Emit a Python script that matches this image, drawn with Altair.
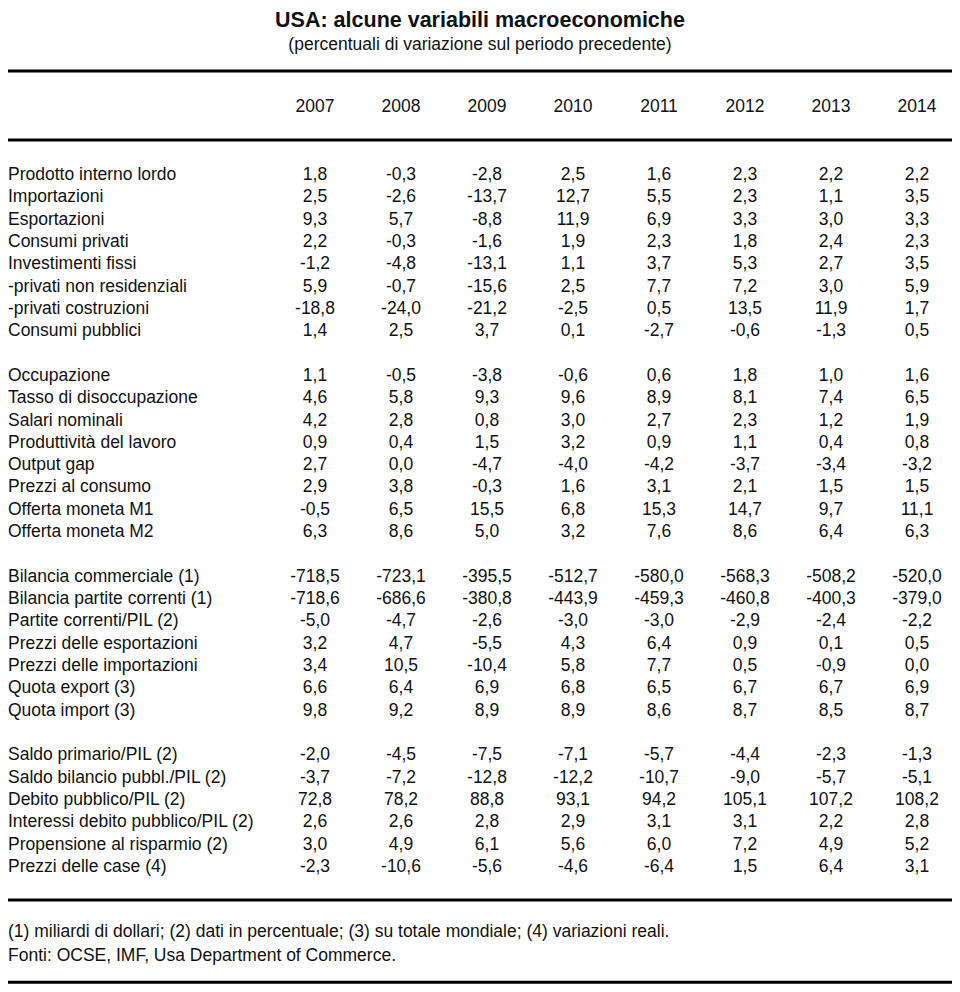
import altair as alt
import pandas as pd

# ---------------- data ----------------
title = "USA: alcune variabili macroeconomiche"
subtitle = "(percentuali di variazione sul periodo precedente)"
years = ["2007", "2008", "2009", "2010", "2011", "2012", "2013", "2014"]
notes = [
    "(1) miliardi di dollari; (2) dati in percentuale; (3) su totale mondiale; (4) variazioni reali.",
    "Fonti: OCSE, IMF, Usa Department of Commerce.",
]

g1_labels = [
    "Prodotto interno lordo", "Importazioni", "Esportazioni", "Consumi privati",
    "Investimenti fissi", "-privati non residenziali", "-privati costruzioni", "Consumi pubblici",
]
g1_values = [
    [1.8, -0.3, -2.8, 2.5, 1.6, 2.3, 2.2, 2.2],
    [2.5, -2.6, -13.7, 12.7, 5.5, 2.3, 1.1, 3.5],
    [9.3, 5.7, -8.8, 11.9, 6.9, 3.3, 3.0, 3.3],
    [2.2, -0.3, -1.6, 1.9, 2.3, 1.8, 2.4, 2.3],
    [-1.2, -4.8, -13.1, 1.1, 3.7, 5.3, 2.7, 3.5],
    [5.9, -0.7, -15.6, 2.5, 7.7, 7.2, 3.0, 5.9],
    [-18.8, -24.0, -21.2, -2.5, 0.5, 13.5, 11.9, 1.7],
    [1.4, 2.5, 3.7, 0.1, -2.7, -0.6, -1.3, 0.5],
]

g2_labels = [
    "Occupazione", "Tasso di disoccupazione", "Salari nominali", "Produttività del lavoro",
    "Output gap", "Prezzi al consumo", "Offerta moneta M1", "Offerta moneta M2",
]
g2_values = [
    [1.1, -0.5, -3.8, -0.6, 0.6, 1.8, 1.0, 1.6],
    [4.6, 5.8, 9.3, 9.6, 8.9, 8.1, 7.4, 6.5],
    [4.2, 2.8, 0.8, 3.0, 2.7, 2.3, 1.2, 1.9],
    [0.9, 0.4, 1.5, 3.2, 0.9, 1.1, 0.4, 0.8],
    [2.7, 0.0, -4.7, -4.0, -4.2, -3.7, -3.4, -3.2],
    [2.9, 3.8, -0.3, 1.6, 3.1, 2.1, 1.5, 1.5],
    [-0.5, 6.5, 15.5, 6.8, 15.3, 14.7, 9.7, 11.1],
    [6.3, 8.6, 5.0, 3.2, 7.6, 8.6, 6.4, 6.3],
]

g3_labels = [
    "Bilancia commerciale (1)", "Bilancia partite correnti (1)", "Partite correnti/PIL (2)",
    "Prezzi delle esportazioni", "Prezzi delle importazioni", "Quota export (3)", "Quota import (3)",
]
g3_values = [
    [-718.5, -723.1, -395.5, -512.7, -580.0, -568.3, -508.2, -520.0],
    [-718.6, -686.6, -380.8, -443.9, -459.3, -460.8, -400.3, -379.0],
    [-5.0, -4.7, -2.6, -3.0, -3.0, -2.9, -2.4, -2.2],
    [3.2, 4.7, -5.5, 4.3, 6.4, 0.9, 0.1, 0.5],
    [3.4, 10.5, -10.4, 5.8, 7.7, 0.5, -0.9, 0.0],
    [6.6, 6.4, 6.9, 6.8, 6.5, 6.7, 6.7, 6.9],
    [9.8, 9.2, 8.9, 8.9, 8.6, 8.7, 8.5, 8.7],
]

g4_labels = [
    "Saldo primario/PIL (2)", "Saldo bilancio pubbl./PIL (2)", "Debito pubblico/PIL (2)",
    "Interessi debito pubblico/PIL (2)", "Propensione al risparmio (2)", "Prezzi delle case (4)",
]
g4_values = [
    [-2.0, -4.5, -7.5, -7.1, -5.7, -4.4, -2.3, -1.3],
    [-3.7, -7.2, -12.8, -12.2, -10.7, -9.0, -5.7, -5.1],
    [72.8, 78.2, 88.8, 93.1, 94.2, 105.1, 107.2, 108.2],
    [2.6, 2.6, 2.8, 2.9, 3.1, 3.1, 2.2, 2.8],
    [3.0, 4.9, 6.1, 5.6, 6.0, 7.2, 4.9, 5.2],
    [-2.3, -10.6, -5.6, -4.6, -6.4, 1.5, 6.4, 3.1],
]

groups = [(g1_labels, g1_values), (g2_labels, g2_values),
          (g3_labels, g3_values), (g4_labels, g4_values)]

# ---------------- layout (in row / column units) ----------------
W, H = 944, 976
ROW0_PX, ROW_STEP = 167.0, 22.32      # chart-y of first data row, row pitch
COL0_PX, COL_STEP = 307.0, 86.0       # chart-x of first year column, column pitch
y_dom = [(0 - ROW0_PX) / ROW_STEP, (H - ROW0_PX) / ROW_STEP]
x_dom = [(0 - COL0_PX) / COL_STEP, (W - COL0_PX) / COL_STEP]
x_mid = (x_dom[0] + x_dom[1]) / 2

ROW_TITLE, ROW_SUB, ROW_YEARS = -6.90, -5.84, -3.05
RULES = [-4.66, -1.57, 32.48, 36.17]
ROW_NOTES = [33.93, 34.97]

def fmt(v):
    return f"{v:.1f}".replace(".", ",")

label_rows, cell_rows = [], []
r = 0
for labels, values in groups:
    for lab, vals in zip(labels, values):
        label_rows.append({"row": r, "col": x_dom[0], "txt": lab})
        for i, v in enumerate(vals):
            cell_rows.append({"row": r, "col": i, "txt": fmt(v)})
        r += 1
    r += 1  # blank row between groups

for i, y in enumerate(years):
    cell_rows.append({"row": ROW_YEARS, "col": i, "txt": y})

labels_df = pd.DataFrame(label_rows)
cells_df = pd.DataFrame(cell_rows)
notes_df = pd.DataFrame({"row": ROW_NOTES, "col": [x_dom[0]] * 2, "txt": notes})
title_df = pd.DataFrame({"row": [ROW_TITLE], "col": [x_mid], "txt": [title]})
sub_df = pd.DataFrame({"row": [ROW_SUB], "col": [x_mid], "txt": [subtitle]})
rules_df = pd.DataFrame({"row": RULES})

xs = alt.Scale(domain=x_dom, nice=False, zero=False)
ys = alt.Scale(domain=y_dom, nice=False, zero=False, reverse=True)
X = alt.X("col:Q", scale=xs, axis=None)
Y = alt.Y("row:Q", scale=ys, axis=None)

FONT = "Liberation Sans"
INK = "#111111"
FS = 17.5

cells = alt.Chart(cells_df).mark_text(
    align="center", baseline="middle", font=FONT, fontSize=FS, color=INK
).encode(x=X, y=Y, text="txt:N")

lbls = alt.Chart(labels_df).mark_text(
    align="left", baseline="middle", font=FONT, fontSize=FS, color=INK
).encode(x=X, y=Y, text="txt:N")

nts = alt.Chart(notes_df).mark_text(
    align="left", baseline="middle", font=FONT, fontSize=FS, color=INK
).encode(x=X, y=Y, text="txt:N")

ttl = alt.Chart(title_df).mark_text(
    align="center", baseline="middle", font=FONT, fontSize=21.5, fontWeight="bold", color=INK
).encode(x=X, y=Y, text="txt:N")

sub = alt.Chart(sub_df).mark_text(
    align="center", baseline="middle", font=FONT, fontSize=FS, color=INK
).encode(x=X, y=Y, text="txt:N")

rules = alt.Chart(rules_df).mark_rule(color="#000000", strokeWidth=3).encode(
    y=Y, x=alt.value(0), x2=alt.value(W)
)

chart = alt.layer(rules, ttl, sub, cells, lbls, nts).properties(
    width=W, height=H, padding=0, autosize=alt.AutoSizeParams(type="none")
).configure(background="white", view=alt.ViewConfig(stroke=None))

chart.save("out.html", embed_options={"renderer": "svg", "actions": False})
